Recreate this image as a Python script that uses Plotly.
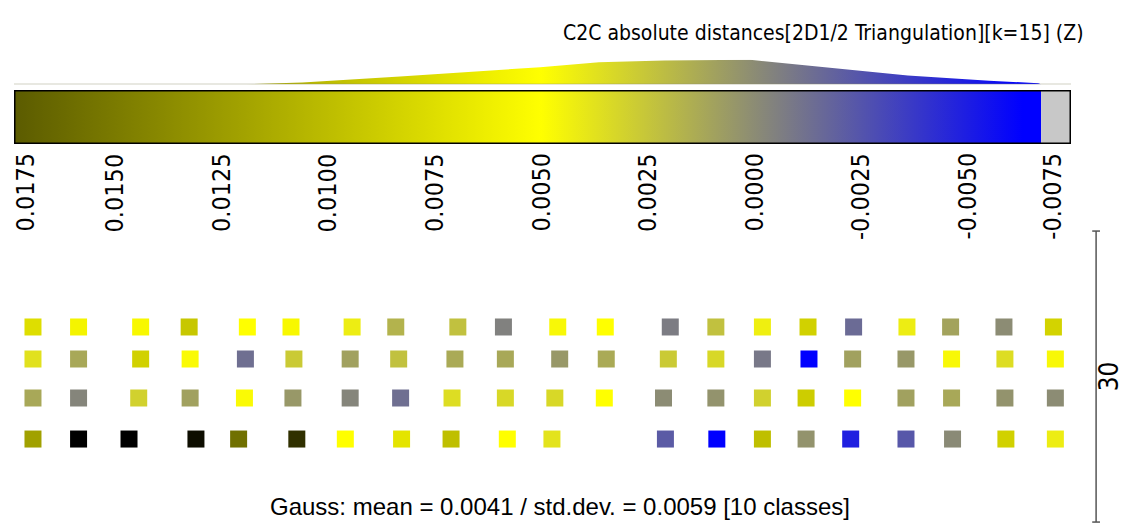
import plotly.graph_objects as go

# ---------------------------------------------------------------------------
# Signed C2C distance scale (Z component)
# ---------------------------------------------------------------------------
SCALE_TOP = 0.01737        # value at the left end of the colour ramp
SCALE_BOTTOM = -0.00674    # value at the right end of the colour ramp
SCALE_NAN_END = -0.00744   # right end of the grey NaN swatch

tick_values = [0.0175, 0.0150, 0.0125, 0.0100, 0.0075, 0.0050,
               0.0025, 0.0000, -0.0025, -0.0050, -0.0075]
tick_labels = ["0.0175", "0.0150", "0.0125", "0.0100", "0.0075", "0.0050",
               "0.0025", "0.0000", "-0.0025", "-0.0050", "-0.0075"]

# colour ramp anchors (distance -> colour)
ramp_values = [-0.0063, 0.0000, 0.0050, 0.0242]
ramp_colors = ["#0000ff", "#8c8c74", "#ffff00", "#000000"]

# histogram drawn above the colour ramp (relative density)
hist_values = [0.01192, 0.01060, 0.00831, 0.00502, 0.00364, 0.00211, 0.00009,
               -0.00169, -0.00361, -0.00552, -0.00667, -0.00674]
hist_density = [0.0, 0.07, 0.32, 0.70, 0.90, 0.97, 1.0,
                0.69, 0.36, 0.15, 0.04, 0.0]

# ---------------------------------------------------------------------------
# Measured points: X position (scene units) and distance per row
# ---------------------------------------------------------------------------
row_y = [20.31, 17.01, 12.99, 8.76]

row1_x = [3.4, 8.1, 14.5, 19.5, 25.5, 30.0, 36.3, 40.8, 47.2, 51.9, 57.5,
          62.4, 69.1, 73.8, 78.6, 83.3, 88.0, 93.5, 98.0, 103.5, 108.6]
row1_d = [0.0075, 0.0058, 0.0055, 0.0092, 0.0050, 0.0055, 0.0042, 0.0017,
          0.0023, -0.0005, 0.0047, 0.0050, -0.0007, 0.0023, 0.0043, 0.0085,
          -0.0015, 0.0042, 0.0010, 0.0000, 0.0083]

row2_x = [3.4, 8.1, 14.5, 19.6, 25.3, 30.3, 36.1, 41.1, 46.9, 52.1, 57.7,
          62.5, 68.9, 73.8, 78.6, 83.4, 87.9, 93.4, 98.1, 103.6, 108.8]
row2_d = [0.0037, 0.0012, 0.0085, 0.0048, -0.0013, 0.0027, 0.0009, 0.0023,
          0.0013, 0.0012, 0.0005, 0.0013, 0.0027, 0.0033, -0.0009, -0.0063,
          0.0009, 0.0005, 0.0047, 0.0035, 0.0047]

row3_x = [3.4, 8.1, 14.3, 19.6, 25.2, 30.2, 36.1, 41.3, 46.6, 52.1, 57.2,
          62.3, 68.4, 73.8, 78.6, 83.1, 87.9, 93.4, 98.1, 103.6, 108.8]
row3_d = [0.0012, -0.0003, 0.0030, 0.0009, 0.0048, 0.0005, -0.0003, -0.0013,
          0.0035, 0.0033, 0.0033, 0.0050, 0.0000, 0.0003, 0.0030, 0.0088,
          0.0050, 0.0009, 0.0012, 0.0003, 0.0000]

row4_x = [3.4, 8.1, 13.3, 20.2, 24.6, 30.6, 35.6, 41.4, 46.5, 52.3, 56.9,
          68.6, 73.9, 78.6, 83.1, 87.7, 93.4, 98.2, 103.7, 108.8]
row4_d = [0.0121, 0.0245, 0.0245, 0.0232, 0.0158, 0.0206, 0.0050, 0.0070,
          0.0098, 0.0050, 0.0038, -0.0022, -0.0063, 0.0098, 0.0003, -0.0049,
          -0.0024, -0.0001, 0.0085, 0.0042]

SCALE_BAR_LENGTH = 30

# ---------------------------------------------------------------------------
# Colour helpers
# ---------------------------------------------------------------------------
def hex_to_rgb(h):
    return tuple(int(h[i:i + 2], 16) for i in (1, 3, 5))


def ramp_color(v):
    v = min(max(v, ramp_values[0]), ramp_values[-1])
    for i in range(len(ramp_values) - 1):
        a, b = ramp_values[i], ramp_values[i + 1]
        if v <= b:
            t = (v - a) / (b - a)
            ca, cb = hex_to_rgb(ramp_colors[i]), hex_to_rgb(ramp_colors[i + 1])
            return "rgb(%d,%d,%d)" % tuple(round(ca[k] + (cb[k] - ca[k]) * t) for k in range(3))
    return ramp_colors[-1]


def ramp_scale(v_start, v_stop):
    """Colorscale running from v_start (0) to v_stop (1)."""
    lo, hi = min(v_start, v_stop), max(v_start, v_stop)
    pts = [v_start, v_stop] + [v for v in ramp_values if lo < v < hi]
    stops = sorted(((v - v_start) / (v_stop - v_start), ramp_color(v)) for v in pts)
    return [[f, c] for f, c in stops]


bar_gradient = dict(type="horizontal", colorscale=ramp_scale(SCALE_TOP, SCALE_BOTTOM),
                    start=SCALE_TOP, stop=SCALE_BOTTOM)

W, H = 1135, 524
FONT_TAHOMA = "DejaVu Sans Condensed, DejaVu Sans"

fig = go.Figure()

# --- measured points --------------------------------------------------------
pts_x, pts_y, pts_d = [], [], []
for y, xs, ds in zip(row_y, [row1_x, row2_x, row3_x, row4_x],
                     [row1_d, row2_d, row3_d, row4_d]):
    pts_x += xs
    pts_y += [y] * len(xs)
    pts_d += ds

fig.add_trace(go.Scatter(
    x=pts_x, y=pts_y, mode="markers", xaxis="x", yaxis="y",
    marker=dict(symbol="square", size=17, color=pts_d,
                colorscale=ramp_scale(ramp_values[0], ramp_values[-1]),
                cmin=ramp_values[0], cmax=ramp_values[-1],
                line=dict(width=0)),
    hoverinfo="skip", showlegend=False))

# --- colour ramp --------------------------------------------------------------
fig.add_trace(go.Scatter(
    x=[SCALE_TOP, SCALE_BOTTOM, SCALE_BOTTOM, SCALE_TOP, SCALE_TOP],
    y=[0, 0, 1, 1, 0], xaxis="x2", yaxis="y2",
    mode="lines", line=dict(width=0), fill="toself",
    fillgradient=bar_gradient, hoverinfo="skip", showlegend=False))

# --- histogram ------------------------------------------------------------
fig.add_trace(go.Scatter(
    x=hist_values, y=hist_density, xaxis="x2", yaxis="y3",
    mode="lines", line=dict(width=0), fill="tozeroy",
    fillgradient=bar_gradient, hoverinfo="skip", showlegend=False))

shapes = [
    # histogram baseline
    dict(type="line", xref="x2", yref="y3", x0=SCALE_TOP, x1=SCALE_NAN_END,
         y0=0, y1=0, line=dict(color="#8a8a6a", width=1)),
    # NaN swatch
    dict(type="rect", xref="x2", yref="y2", x0=SCALE_BOTTOM, x1=SCALE_NAN_END,
         y0=0, y1=1, fillcolor="#c8c8c8", line=dict(width=0)),
    # ramp frame
    dict(type="rect", xref="x2", yref="y2", x0=SCALE_TOP, x1=SCALE_NAN_END,
         y0=0, y1=1, line=dict(color="#000000", width=3)),
]

# scale bar on the right
sb_x, sb_y0 = 113.0, 0.2
sb_y1 = sb_y0 + SCALE_BAR_LENGTH
shapes += [
    dict(type="line", xref="x", yref="y", x0=sb_x, x1=sb_x, y0=sb_y0, y1=sb_y1,
         line=dict(color="#555555", width=1.5)),
    dict(type="line", xref="x", yref="y", x0=sb_x - 0.4, x1=sb_x + 0.4, y0=sb_y0, y1=sb_y0,
         line=dict(color="#555555", width=1.5)),
    dict(type="line", xref="x", yref="y", x0=sb_x - 0.4, x1=sb_x + 0.4, y0=sb_y1, y1=sb_y1,
         line=dict(color="#555555", width=1.5)),
]

annotations = []
# tick labels under the ramp (kept inside the ramp ends)
edge = 11 * (SCALE_TOP - SCALE_NAN_END) / (1071 - 14)
for v, t in zip(tick_values, tick_labels):
    xv = min(max(v, SCALE_BOTTOM - edge), SCALE_TOP - edge)
    annotations.append(dict(
        x=xv, xref="x2", y=1 - 151 / H, yref="paper", text=t, showarrow=False,
        textangle=-90, xanchor="center", yanchor="top",
        font=dict(family=FONT_TAHOMA, size=25, color="#000000")))

annotations += [
    dict(x=1086 / W, y=1 - 33 / H, xref="paper", yref="paper", showarrow=False,
         text="C2C absolute distances[2D1/2 Triangulation][k=15] (Z)",
         xanchor="right", yanchor="middle",
         font=dict(family=FONT_TAHOMA, size=21, color="#000000")),
    dict(x=560 / W, y=1 - 506 / H, xref="paper", yref="paper", showarrow=False,
         text="Gauss: mean = 0.0041 / std.dev. = 0.0059 [10 classes]",
         xanchor="center", yanchor="middle",
         font=dict(family="Liberation Sans, Arial", size=24, color="#000000")),
    dict(x=sb_x + 1.3, y=(sb_y0 + sb_y1) / 2, xref="x", yref="y", showarrow=False,
         text=str(SCALE_BAR_LENGTH), textangle=-90, xanchor="center", yanchor="middle",
         font=dict(family=FONT_TAHOMA, size=26, color="#000000")),
]

hidden = dict(visible=False, showgrid=False, zeroline=False, fixedrange=True)
fig.update_layout(
    width=W, height=H, margin=dict(l=0, r=0, t=0, b=0),
    paper_bgcolor="white", plot_bgcolor="rgba(0,0,0,0)",
    xaxis=dict(hidden, domain=[0, 1], range=[0, W / 9.7]),
    yaxis=dict(hidden, domain=[0, 1], range=[0, H / 9.7]),
    xaxis2=dict(hidden, domain=[14 / W, 1071 / W], range=[SCALE_TOP, SCALE_NAN_END], anchor="y2"),
    yaxis2=dict(hidden, domain=[1 - 144 / H, 1 - 90 / H], range=[0, 1], anchor="x2"),
    yaxis3=dict(hidden, domain=[1 - 84.3 / H, 1 - 59.8 / H], range=[0, 1], anchor="x2"),
    shapes=shapes, annotations=annotations, showlegend=False,
)

fig.write_html("out.html")
